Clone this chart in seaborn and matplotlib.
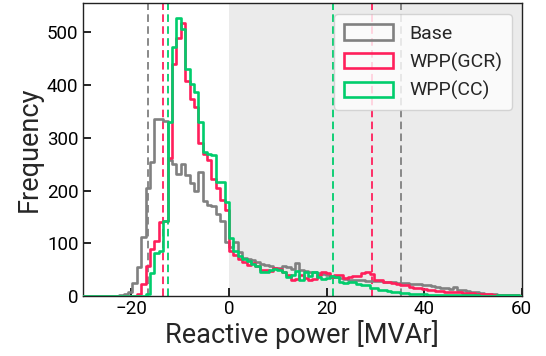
import numpy as np
import pandas as pd
import matplotlib
matplotlib.use("Agg")
import matplotlib.pyplot as plt
from matplotlib.patches import Patch
import seaborn as sns

# ---- data (histogram counts) ----
bin_width = 0.9
first_edge_index = -34          # edges are multiples of bin_width
n_leading_zero_bins = 9         # bins from -30.6 to -22.5 are empty

series_names = ["Base", "WPP(GCR)", "WPP(CC)"]
series_colors = ["#808080", "#FF1F5B", "#00CD6C"]

base_counts = [1, 4, 8, 25, 55, 112, 204, 254, 336, 336, 331, 257, 250, 232, 251, 230,
               215, 200, 236, 181, 172, 170, 155, 142, 103, 92, 102, 84, 72, 70, 68, 64,
               60, 58, 56, 54, 53, 56, 55, 52, 62, 50, 47, 46, 45, 43, 41, 40, 38, 37,
               34, 33, 31, 30, 30, 30, 29, 29, 28, 28, 27, 27, 26, 25, 24, 24, 23, 23,
               22, 21, 20, 19, 17, 16, 15, 14, 18, 12, 11, 9, 8, 7, 5, 4, 3, 3, 2, 2,
               1, 1, 1, 0]
gcr_counts = [0, 0, 0, 0, 3, 22, 56, 90, 105, 140, 143, 262, 440, 490, 518, 408, 373,
              358, 290, 270, 257, 222, 205, 182, 163, 85, 78, 70, 64, 58, 62, 56, 49, 50,
              48, 53, 52, 46, 40, 30, 33, 40, 34, 30, 32, 40, 46, 43, 37, 40, 40, 35, 36,
              38, 38, 43, 46, 42, 30, 31, 27, 26, 24, 23, 21, 20, 18, 16, 15, 13, 11, 11,
              10, 9, 8, 8, 7, 7, 6, 5, 5, 4, 4, 4, 3, 2, 2, 2, 1, 1, 1, 0]
cc_counts = [0, 0, 0, 0, 0, 0, 4, 43, 81, 85, 143, 330, 472, 528, 506, 430, 402, 386,
             330, 273, 270, 267, 217, 217, 178, 110, 85, 75, 70, 67, 60, 57, 45, 46, 49,
             52, 50, 45, 37, 40, 48, 30, 45, 38, 45, 36, 32, 35, 38, 36, 26, 24, 26, 27,
             22, 21, 20, 16, 15, 12, 11, 9, 8, 7, 5, 5, 4, 3, 3, 3, 2, 2, 2, 2, 1, 1, 1,
             1, 1, 1, 1, 1, 0, 0, 0, 0, 1, 1, 1, 1, 2, 0]

# threshold (dashed) lines per series: lower, upper
lower_lines = [-16.7, -13.6, -12.45]
upper_lines = [35.2, 29.4, 21.4]

shade_range = (0, 60)
x_limits = (-30, 60)
y_limits = (0, 555)
x_ticks = [-20, 0, 20, 40, 60]
y_ticks = [0, 100, 200, 300, 400, 500]

# ---- figure ----
sns.set_style("ticks")
plt.rcParams["font.family"] = ["Roboto", "DejaVu Sans"]

fig = plt.figure(figsize=(5.46, 3.56), dpi=100)
ax = fig.add_axes([0.1515, 0.1685, 0.804, 0.8222])

ax.axvspan(*shade_range, color="#ebebeb", zorder=0, lw=0)

all_counts = [base_counts, gcr_counts, cc_counts]
frames = []
for name, counts in zip(series_names, all_counts):
    padded = np.concatenate([np.zeros(n_leading_zero_bins), np.asarray(counts, float)])
    idx = np.arange(len(padded)) + first_edge_index
    centers = (idx + 0.5) * bin_width
    frames.append(pd.DataFrame({"x": centers, "w": padded, "series": name}))
edges = (np.arange(first_edge_index, first_edge_index + len(frames[0]) + 1) * bin_width).tolist()

for df, color in zip(frames, series_colors):
    sns.histplot(data=df, x="x", weights="w", bins=edges, element="step", fill=False,
                 color=color, linewidth=1.9, ax=ax, zorder=3)

for lo, hi, color in zip(lower_lines, upper_lines, series_colors):
    for v in (lo, hi):
        ax.axvline(v, color=color, linestyle=(0, (4.2, 2.4)), linewidth=1.3, zorder=2)

ax.set_xlim(*x_limits)
ax.set_ylim(*y_limits)
ax.set_xticks(x_ticks)
ax.set_yticks(y_ticks)
ax.tick_params(direction="in", length=6, width=1.2, labelsize=13.5, colors="black",
               pad=3)
for sp in ax.spines.values():
    sp.set_visible(True)
    sp.set_color("#222222")
    sp.set_linewidth(1.0)

ax.set_xlabel("Reactive power [MVAr]", fontsize=19.5, labelpad=1)
ax.set_ylabel("Frequency", fontsize=19.5, labelpad=3)

handles = [Patch(facecolor="none", edgecolor=c, linewidth=1.9) for c in series_colors]
ax.legend(handles, series_names, loc="upper right", bbox_to_anchor=(0.978, 0.962),
          borderaxespad=0, fontsize=14, handlelength=2.5, handleheight=0.85,
          handletextpad=0.85, borderpad=0.5, labelspacing=0.5, framealpha=0.8)

fig.savefig("out.png", dpi=100)
